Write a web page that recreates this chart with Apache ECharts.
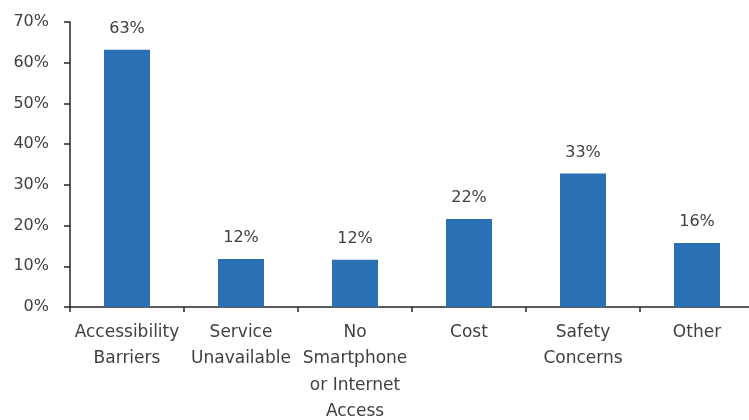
<!DOCTYPE html>
<html><head><meta charset="utf-8">
<script src="https://cdn.jsdelivr.net/npm/echarts@6/dist/echarts.min.js"></script>
<style>html,body{margin:0;padding:0;background:#fff}#c{width:749px;height:420px}</style>
</head><body><div id="c"></div>
<script>
var categories = ["Accessibility\nBarriers", "Service\nUnavailable", "No\nSmartphone\nor Internet\nAccess", "Cost", "Safety\nConcerns", "Other"];
var values = [63.2, 11.8, 11.6, 21.6, 32.8, 15.7];
var yTicks = [0, 10, 20, 30, 40, 50, 60, 70];

var chart = echarts.init(document.getElementById('c'));
chart.setOption({
  animation: false,
  grid: {left: 70, right: -5, top: 22, bottom: 113, containLabel: false, outerBoundsMode: 'none'},
  xAxis: {
    type: 'category', data: categories,
    axisLine: {lineStyle: {color: '#262626', width: 1.5}},
    axisTick: {show: true, length: 5, lineStyle: {color: '#262626', width: 1.5}},
    axisLabel: {interval: 0, color: '#404040', fontFamily: 'DejaVu Sans', fontSize: 17, lineHeight: 26.5, margin: 12}
  },
  yAxis: {
    type: 'value', min: yTicks[0], max: yTicks[yTicks.length - 1], interval: 10,
    axisLine: {show: true, lineStyle: {color: '#262626', width: 1.5}},
    axisTick: {show: true, length: 6, lineStyle: {color: '#262626', width: 1.5}},
    splitLine: {show: false},
    axisLabel: {color: '#404040', fontFamily: 'DejaVu Sans', fontSize: 16, margin: 21, formatter: '{value}%'}
  },
  series: [{
    type: 'bar', data: values, barWidth: 46,
    itemStyle: {color: '#2B6FB4'},
    label: {show: true, position: 'top', distance: 13, color: '#404040', fontFamily: 'DejaVu Sans', fontSize: 16,
      formatter: function (p) { return Math.round(p.value) + '%'; }}
  }]
});
</script></body></html>
